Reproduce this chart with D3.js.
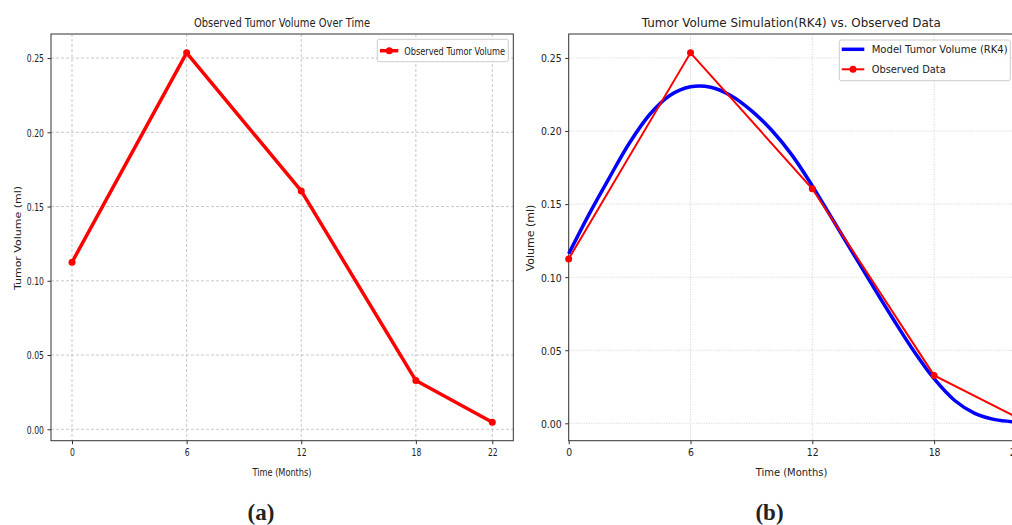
<!DOCTYPE html>
<html>
<head>
<meta charset="utf-8">
<script src="https://cdn.jsdelivr.net/npm/d3@7"></script>
<style>
  body { margin: 0; background: #fff; }
  text { font-family: "DejaVu Sans", sans-serif; fill: #222; }
</style>
</head>
<body>
<svg width="1012" height="525"></svg>
<script>
// observed data (same for both panels)
const months = [0, 6, 12, 18, 22];
const observedVolume = [0.1125, 0.2535, 0.1605, 0.0328, 0.0047];

// RK4 model curve at each month
const modelMonths = [0, 1, 2, 3, 4, 5, 6, 7, 8, 9, 10, 11, 12, 13, 14, 15, 16, 17, 18, 19, 20, 21, 22];
const modelVolume = [0.116, 0.143, 0.168, 0.192, 0.2115, 0.2245, 0.2303, 0.2300, 0.2242, 0.2140, 0.2005, 0.1835, 0.1625,
                     0.1395, 0.1165, 0.0935, 0.0710, 0.0495, 0.0305, 0.0158, 0.0068, 0.0025, 0.0010];

const xTicks = [0, 6, 12, 18, 22];
const yTicks = [0, 0.05, 0.10, 0.15, 0.20, 0.25];

const svg = d3.select("svg");

const plotTop = 34, plotBottom = 440.7;

// scales for the two panels
const xa = d3.scaleLinear().domain([-1.1, 23.1]).range([51, 513.3]);
const ya = d3.scaleLinear().domain([-0.0077, 0.2662]).range([plotBottom, plotTop]);
const xb = d3.scaleLinear().domain([0, 22]).range([568.7, 1015.3]);
const yb = d3.scaleLinear().domain([-0.0119, 0.2664]).range([plotBottom, plotTop]);

function label(g, str, x, y, size, width, opts) {
    opts = opts || {};
    const t = g.append("text")
        .attr("x", x).attr("y", y)
        .attr("text-anchor", opts.anchor || "middle")
        .style("font-size", size + "px")
        .text(str);
    if (width) t.attr("textLength", width).attr("lengthAdjust", "spacingAndGlyphs");
    return t;
}

function drawAxes(x, y, gridDash, gridColor, sx) {
    const g = svg.append("g");
    const [x0, x1] = x.range();

    // grid
    g.append("g").selectAll("line").data(xTicks).join("line")
        .attr("x1", d => x(d)).attr("x2", d => x(d))
        .attr("y1", plotTop).attr("y2", plotBottom)
        .attr("stroke", gridColor).attr("stroke-width", 0.8)
        .attr("stroke-dasharray", gridDash);
    g.append("g").selectAll("line").data(yTicks).join("line")
        .attr("x1", x0).attr("x2", x1)
        .attr("y1", d => y(d)).attr("y2", d => y(d))
        .attr("stroke", gridColor).attr("stroke-width", 0.8)
        .attr("stroke-dasharray", gridDash);

    // axes
    const ax = g.append("g")
        .attr("transform", `translate(0,${plotBottom})`)
        .call(d3.axisBottom(x).tickValues(xTicks).tickSize(3.5).tickPadding(4).tickFormat(d3.format("d")));
    const ay = g.append("g")
        .attr("transform", `translate(${x0},0)`)
        .call(d3.axisLeft(y).tickValues(yTicks).tickSize(3.5).tickFormat(d3.format(".2f")));
    [ax, ay].forEach(a => {
        a.select(".domain").remove();
        a.selectAll(".tick line").attr("stroke", "#333");
        a.selectAll("text").style("font-size", "11px").style("font-family", "DejaVu Sans").attr("fill", "#222");
    });
    ax.selectAll("text").attr("transform", `scale(${sx},1)`);
    ay.selectAll("text").attr("x", 0).attr("dy", "0.35em")
        .attr("transform", `translate(-7,0) scale(${sx},1)`);

    // frame
    g.append("rect")
        .attr("x", x0).attr("y", plotTop)
        .attr("width", x1 - x0).attr("height", plotBottom - plotTop)
        .attr("fill", "none").attr("stroke", "#333").attr("stroke-width", 1);
    return g;
}

// ---- panel (a)
const ga = drawAxes(xa, ya, "3,2", "#bbb", 0.7);
const obsA = months.map((m, i) => [m, observedVolume[i]]);
ga.append("path").datum(obsA)
    .attr("fill", "none").attr("stroke", "#ff0000").attr("stroke-width", 3.5)
    .attr("stroke-linejoin", "round")
    .attr("d", d3.line().x(d => xa(d[0])).y(d => ya(d[1])));
ga.append("g").selectAll("circle").data(obsA).join("circle")
    .attr("cx", d => xa(d[0])).attr("cy", d => ya(d[1])).attr("r", 3.5).attr("fill", "#ff0000");

label(ga, "Observed Tumor Volume Over Time", 282, 27, 13, 176);
label(ga, "Time (Months)", 282, 475.5, 11, 59);
ga.append("text")
    .attr("transform", "translate(20.5,238) scale(0.75,1) rotate(-90)")
    .attr("text-anchor", "middle").style("font-size", "11px")
    .text("Tumor Volume (ml)");

// legend (a)
ga.append("rect").attr("x", 377.3).attr("y", 39.3).attr("width", 131).attr("height", 22.4)
    .attr("rx", 2).attr("fill", "#fff").attr("fill-opacity", 0.8).attr("stroke", "#ccc");
ga.append("line").attr("x1", 380).attr("x2", 398.3).attr("y1", 50.7).attr("y2", 50.7)
    .attr("stroke", "#ff0000").attr("stroke-width", 3.5);
ga.append("circle").attr("cx", 389.3).attr("cy", 50.7).attr("r", 3.5).attr("fill", "#ff0000");
label(ga, "Observed Tumor Volume", 404.3, 54.5, 11, 100.7, {anchor: "start"});

// ---- panel (b)
const gb = drawAxes(xb, yb, "1,1.5", "#c8c8c8", 0.85);
const model = modelMonths.map((m, i) => [m, modelVolume[i]]);
gb.append("path").datum(model)
    .attr("fill", "none").attr("stroke", "#0000ff").attr("stroke-width", 3.5)
    .attr("d", d3.line().curve(d3.curveCatmullRom).x(d => xb(d[0])).y(d => yb(d[1])));
const obsB = months.map((m, i) => [m, observedVolume[i]]);
gb.append("path").datum(obsB)
    .attr("fill", "none").attr("stroke", "#ff0000").attr("stroke-width", 2)
    .attr("d", d3.line().x(d => xb(d[0])).y(d => yb(d[1])));
gb.append("g").selectAll("circle").data(obsB).join("circle")
    .attr("cx", d => xb(d[0])).attr("cy", d => yb(d[1])).attr("r", 3.5).attr("fill", "#ff0000");

label(gb, "Tumor Volume Simulation(RK4) vs. Observed Data", 791.3, 27, 13, 299);
label(gb, "Time (Months)", 791.5, 475.5, 11, 71.7);
gb.append("text")
    .attr("transform", "translate(534,238) scale(0.9,1) rotate(-90)")
    .attr("text-anchor", "middle").style("font-size", "11px")
    .text("Volume (ml)");

// legend (b)
gb.append("rect").attr("x", 839.3).attr("y", 40).attr("width", 171).attr("height", 40.7)
    .attr("rx", 2).attr("fill", "#fff").attr("fill-opacity", 0.8).attr("stroke", "#ccc");
gb.append("line").attr("x1", 841.7).attr("x2", 864.3).attr("y1", 49.3).attr("y2", 49.3)
    .attr("stroke", "#0000ff").attr("stroke-width", 3.5);
gb.append("line").attr("x1", 841.7).attr("x2", 864.3).attr("y1", 69.3).attr("y2", 69.3)
    .attr("stroke", "#ff0000").attr("stroke-width", 2);
gb.append("circle").attr("cx", 853).attr("cy", 69.3).attr("r", 3.5).attr("fill", "#ff0000");
label(gb, "Model Tumor Volume (RK4)", 871.7, 53.3, 11, 136, {anchor: "start"});
label(gb, "Observed Data", 871.7, 73.3, 11, 74, {anchor: "start"});

// captions
svg.append("text").attr("x", 261).attr("y", 520).attr("text-anchor", "middle")
    .style("font-family", "Liberation Serif").style("font-weight", "bold").style("font-size", "23px")
    .text("(a)");
svg.append("text").attr("x", 769.5).attr("y", 520).attr("text-anchor", "middle")
    .style("font-family", "Liberation Serif").style("font-weight", "bold").style("font-size", "23px")
    .text("(b)");
</script>
</body>
</html>
